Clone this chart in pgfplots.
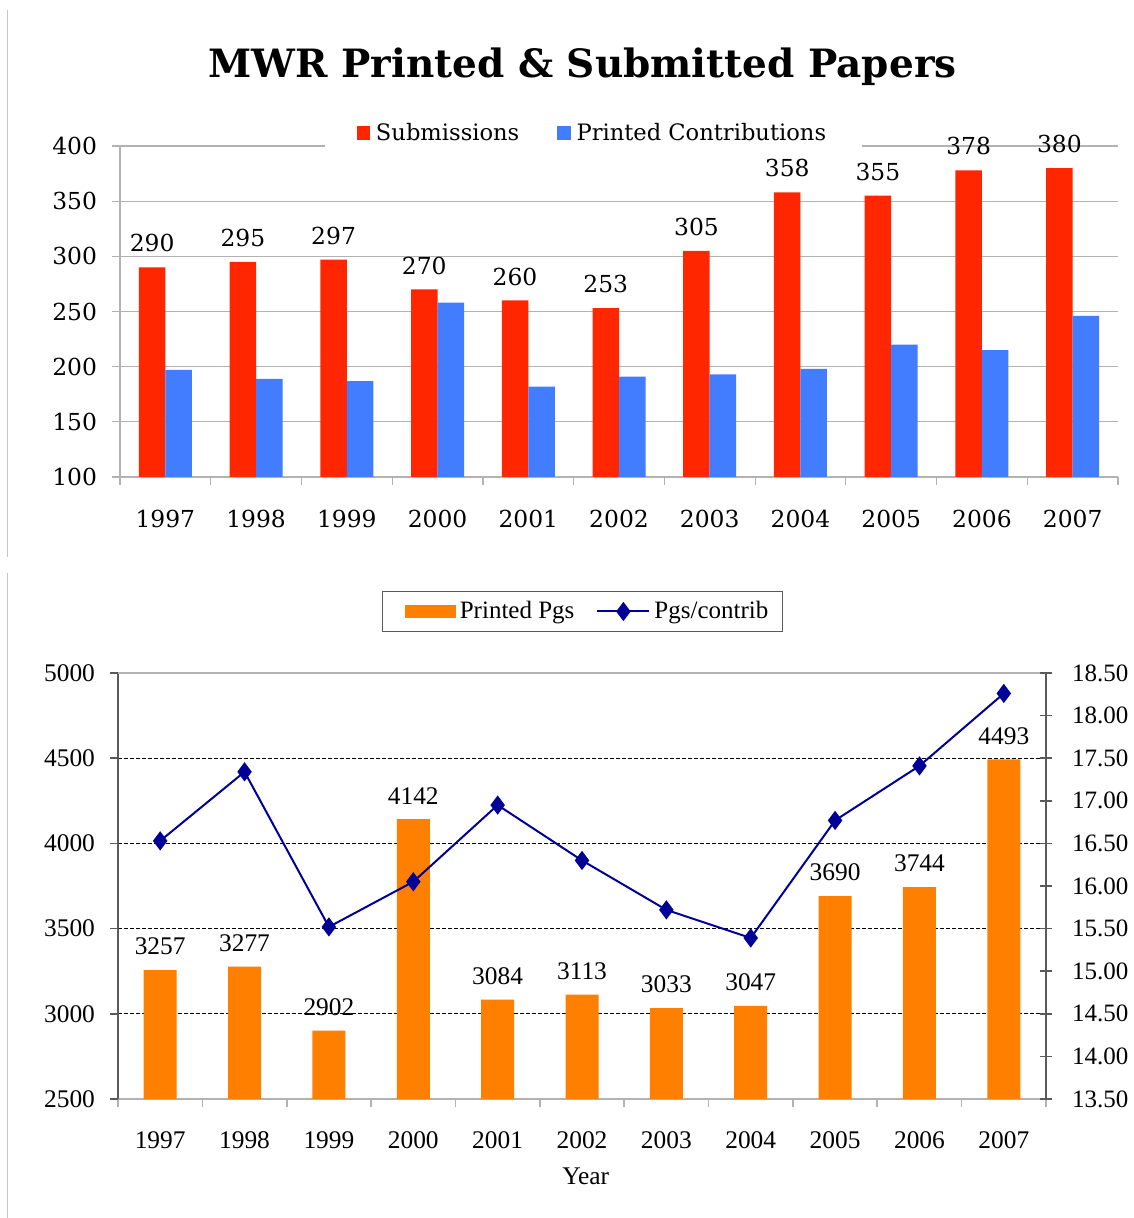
\documentclass[border=0pt]{standalone}
\usepackage{pgfplots}
\pgfplotsset{compat=1.18}
\usepackage{fontspec}
\setmainfont{Liberation Serif}
\newfontfamily\topfont{DejaVu Serif}
\definecolor{subred}{RGB}{255,38,0}
\definecolor{prblue}{RGB}{66,125,255}
\definecolor{pgorange}{RGB}{255,127,0}
\definecolor{navyline}{RGB}{0,0,150}
\definecolor{gridgray}{RGB}{178,178,178}
\definecolor{axdark}{RGB}{90,90,90}
\begin{document}
\begin{tikzpicture}
\path[use as bounding box] (0,0) rectangle (566.5pt,-609pt);
\draw[gray!45, line width=0.6pt] (3.75pt,-5pt) -- (3.75pt,-278.5pt);
\draw[gray!45, line width=0.6pt] (3.75pt,-286.5pt) -- (3.75pt,-609pt);
\node[font=\topfont\bfseries\fontsize{19.5}{22}\selectfont, anchor=base, inner sep=0pt] at (291.25pt,-39pt) {MWR Printed \& Submitted Papers};

% ---------------- top chart ----------------
\begin{axis}[
  at={(60pt,-238.5pt)}, anchor=south west,
  scale only axis, width=499pt, height=165.5pt,
  xmin=-0.5, xmax=10.5, ymin=100, ymax=400,
  ybar=0pt, bar width=13.25pt,
  clip=false,
  axis x line*=bottom, axis y line*=left,
  axis line style={gridgray, line width=0.7pt, -},
  ytick={100,150,...,400},
  ymajorgrids, major grid style={gridgray, line width=0.6pt},
  tick align=outside, major tick length=4pt,
  tick style={gridgray, line width=0.6pt},
  xtick={-0.5,0.5,...,10.5}, xticklabels={},
  extra x ticks={0,1,2,3,4,5,6,7,8,9,10},
  extra x tick labels={1997,1998,1999,2000,2001,2002,2003,2004,2005,2006,2007},
  extra x tick style={major tick length=0pt, xticklabel style={yshift=-13pt}},
  /pgf/number format/assume math mode=true,
  ticklabel style={font=\topfont\fontsize{11.7}{13}\selectfont, text=black},
  yticklabel style={xshift=-4pt},
  legend columns=2,
  legend cell align=left,
  legend image code/.code={\fill[#1] (0pt,-3.3pt) rectangle (6.6pt,3.3pt);},
  legend style={at={(0.4744,1.0393)}, anchor=center, draw=none, fill=white,
    font=\topfont\fontsize{11.3}{13}\selectfont, inner xsep=16pt, inner ysep=2pt,
    /tikz/every odd column/.append style={column sep=1pt},
    /tikz/every even column/.append style={column sep=17pt}},
]
\addplot[fill=subred, draw=none, nodes near coords,
  nodes near coords style={font=\topfont\fontsize{11.7}{13}\selectfont, text=black, yshift=4pt}]
  coordinates {(0,290) (1,295) (2,297) (3,270) (4,260) (5,253) (6,305) (7,358) (8,355) (9,378) (10,380)};
\addplot[fill=prblue, draw=none]
  coordinates {(0,197) (1,189) (2,187) (3,258) (4,182) (5,191) (6,193) (7,198) (8,220) (9,215) (10,246)};
\legend{Submissions, Printed Contributions}
\end{axis}

% ---------------- bottom chart: left axis ----------------
\begin{axis}[
  at={(59pt,-549.5pt)}, anchor=south west,
  scale only axis, width=464pt, height=213pt,
  xmin=-0.5, xmax=10.5, ymin=2500, ymax=5000,
  clip=false,
  separate axis lines,
  x axis line style={gridgray, line width=0.8pt},
  y axis line style={axdark, line width=0.9pt},
  ytick={3000,3500,4000,4500},
  extra y ticks={2500,5000},
  extra y tick style={grid=none},
  ymajorgrids, major grid style={black, dashed, line width=0.45pt, dash pattern=on 2pt off 1pt},
  ytick pos=left, xtick pos=bottom,
  tick align=outside, major tick length=4pt,
  ytick style={axdark, line width=0.8pt},
  xtick style={gridgray, line width=0.8pt},
  xtick={-0.5,0.5,...,10.5}, xticklabels={},
  extra x ticks={0,1,2,3,4,5,6,7,8,9,10},
  extra x tick labels={1997,1998,1999,2000,2001,2002,2003,2004,2005,2006,2007},
  extra x tick style={major tick length=0pt, xticklabel style={yshift=-13pt}},
  /pgf/number format/assume math mode=true,
  /pgf/number format/1000 sep={},
  ticklabel style={font=\fontsize{12.7}{14}\selectfont, text=black},
  yticklabel style={xshift=-4pt},
  xlabel={Year},
  xlabel style={font=\fontsize{12.7}{14}\selectfont, at={(axis description cs:0.504,-0.181)}, anchor=center},
]
\draw[gridgray, line width=0.8pt] (axis cs:-0.5,5000) -- (axis cs:10.5,5000);
\addplot[ybar, bar width=16.5pt, fill=pgorange, draw=none, nodes near coords,
  nodes near coords style={font=\fontsize{12.7}{14}\selectfont, text=black, yshift=4pt}]
  coordinates {(0,3257) (1,3277) (2,2902) (3,4142) (4,3084) (5,3113) (6,3033) (7,3047) (8,3690) (9,3744) (10,4493)};
\end{axis}

% ---------------- bottom chart: right axis ----------------
\begin{axis}[
  at={(59pt,-549.5pt)}, anchor=south west,
  scale only axis, width=464pt, height=213pt,
  xmin=-0.5, xmax=10.5, ymin=13.5, ymax=18.5,
  clip=false,
  axis x line=none, axis y line*=right,
  axis line style={axdark, line width=0.9pt, -},
  ytick={13.5,14,...,18.5},
  tick align=center, major tick length=6pt,
  ytick style={axdark, line width=0.8pt},
  /pgf/number format/assume math mode=true,
  /pgf/number format/fixed, /pgf/number format/fixed zerofill, /pgf/number format/precision=2,
  ticklabel style={font=\fontsize{12.5}{14}\selectfont, text=black},
  yticklabel style={xshift=6.5pt},
  legend columns=2,
  legend cell align=left,
  legend image code/.code={\draw[mark repeat=2, mark phase=2, #1] plot coordinates {(0pt,0pt) (13pt,0pt) (26pt,0pt)};},
  legend style={at={(0.5005,1.1444)}, anchor=center, draw=axdark, line width=0.6pt, fill=white,
    font=\fontsize{12.5}{14}\selectfont, inner xsep=5pt, inner ysep=3pt,
    /tikz/every even column/.append style={column sep=9pt}},
]
\addlegendimage{legend image code/.code={\path (0pt,0pt); \fill[pgorange] (6pt,-3pt) rectangle (31pt,3pt);}}
\addlegendentry{Printed Pgs}
\addplot[navyline, line width=1pt, mark=diamond*, mark size=4pt, mark options={solid, fill=navyline}]
  coordinates {(0,16.53) (1,17.34) (2,15.52) (3,16.05) (4,16.95) (5,16.30) (6,15.72) (7,15.39) (8,16.77) (9,17.41) (10,18.26)};
\addlegendentry{Pgs/contrib}
\end{axis}
\end{tikzpicture}
\end{document}
